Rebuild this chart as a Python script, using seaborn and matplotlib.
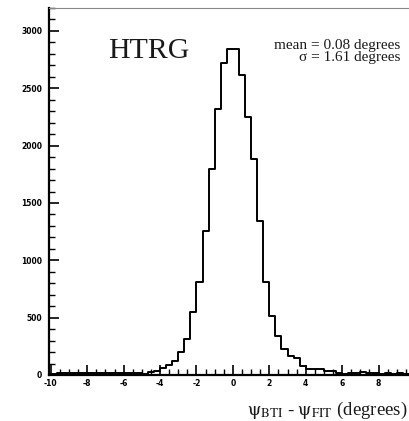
import numpy as np
import pandas as pd
import matplotlib
matplotlib.use("Agg")
import matplotlib.pyplot as plt
import seaborn as sns
from matplotlib.ticker import MultipleLocator

# ---- data ----
x_min, x_max = -10, 10          # histogram range (degrees)
counts_left_tail = [12, 14, 15, 15, 16, 15, 17, 16, 18, 17, 18, 19, 20, 18, 20, 8,
                    28, 38, 65, 90, 125, 203, 311, 552, 814, 1256, 1794, 2320, 2724, 2840]
counts_right_tail = [2840, 2616, 2247, 1881, 1343, 814, 517, 340, 224, 166, 146, 78,
                     52, 52, 50, 35, 35, 18, 12, 15, 14, 24, 15, 14, 13, 15, 12, 14, 13, 12]
counts = counts_left_tail + counts_right_tail
x_ticks = [-10, -8, -6, -4, -2, 0, 2, 4, 6, 8]
y_ticks = [0, 500, 1000, 1500, 2000, 2500, 3000]
title_text = "HTRG"
stats_lines = ["mean = 0.08 degrees", "σ = 1.61 degrees"]
xlabel_text = r"$\mathrm{ψ}_{\mathrm{BTI}}$ - $\mathrm{ψ}_{\mathrm{FIT}}$ (degrees)"

# ---- style ----
sns.set_style("ticks")
plt.rcParams["mathtext.fontset"] = "stix"
plt.rcParams["font.family"] = ["DejaVu Sans"]

W, H = 409, 421
fig = plt.figure(figsize=(W / 100, H / 100), dpi=100)
ax = fig.add_axes([49 / W, 46 / H, 366 / W, 367 / H])

nbins = len(counts)
bw = (x_max - x_min) / nbins
centers = x_min + bw * (np.arange(nbins) + 0.5)
df = pd.DataFrame({"psi": centers, "n": np.asarray(counts, dtype=float)})
sns.histplot(data=df, x="psi", weights="n", binwidth=bw, binrange=(x_min, x_max),
             element="step", fill=False, color="black", linewidth=1.4, ax=ax)

ax.set_xlim(-10.1, 10.0)
ax.set_ylim(0, 3200)
ax.set_xlabel("")
ax.set_ylabel("")

ax.set_xticks(x_ticks)
ax.set_xticklabels([str(t) for t in x_ticks])
ax.set_yticks(y_ticks)
ax.set_yticklabels([str(t) for t in y_ticks])
ax.xaxis.set_minor_locator(MultipleLocator(0.5))
ax.yaxis.set_minor_locator(MultipleLocator(100))
ax.tick_params(which="major", direction="in", length=7, width=1.2, colors="black",
               labelsize=5.5)
ax.tick_params(which="minor", direction="in", length=4, width=1.0, colors="black")
ax.tick_params(axis="y", which="major", pad=5)
ax.tick_params(axis="x", which="major", pad=3)
for lab in ax.get_xticklabels() + ax.get_yticklabels():
    lab.set_fontweight("bold")

for side in ["left", "bottom"]:
    ax.spines[side].set_linewidth(1.6)
    ax.spines[side].set_color("black")
ax.spines["top"].set_linewidth(0.8)
ax.spines["top"].set_color("#888888")
ax.spines["right"].set_visible(False)

serif = ["Liberation Serif", "DejaVu Serif"]
fig.text(108 / W, (H - 58) / H, title_text, fontsize=21.5, family=serif,
         color="#1a1a1a", ha="left", va="baseline")
fig.text(400 / W, (H - 48.7) / H, stats_lines[0], fontsize=11, family=serif,
         color="#1a1a1a", ha="right", va="baseline")
fig.text(400 / W, (H - 61.3) / H, stats_lines[1], fontsize=11, family=serif,
         color="#1a1a1a", ha="right", va="baseline")
fig.text(407 / W, (H - 410) / H, xlabel_text, fontsize=13.5, family=serif,
         color="#1a1a1a", ha="right", va="center")

fig.savefig("out.png", dpi=100)
